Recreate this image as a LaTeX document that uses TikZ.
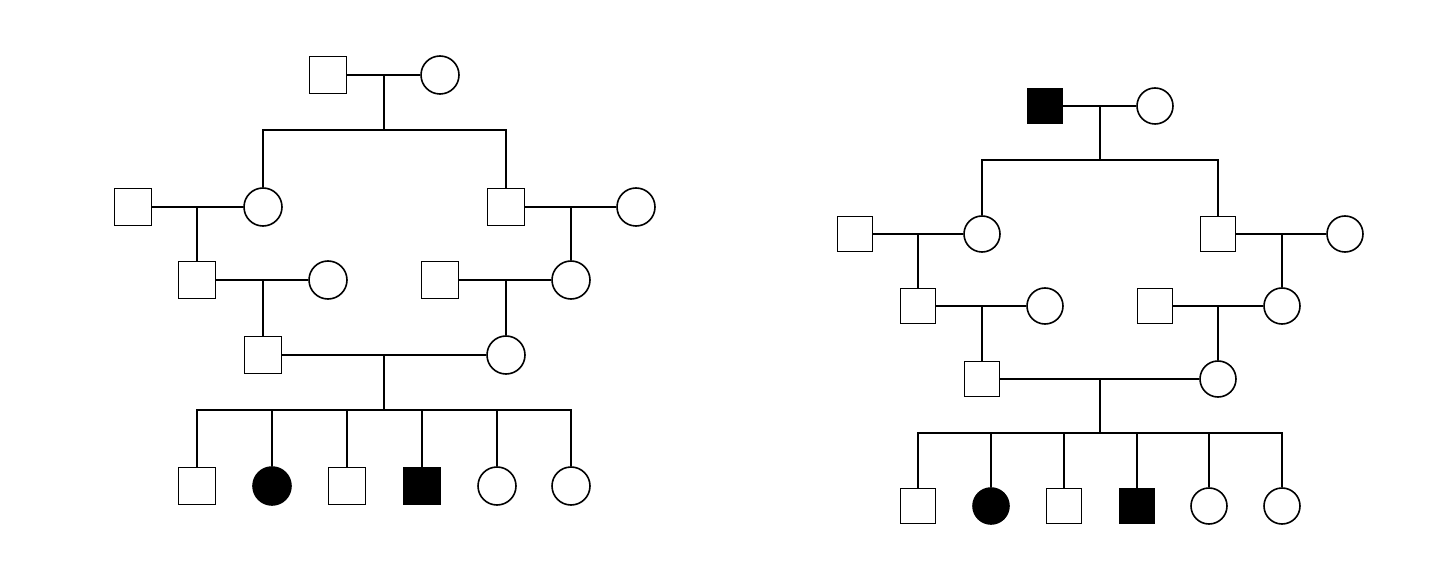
\documentclass[tikz,border=0pt]{standalone}
\begin{document}
\begin{tikzpicture}[x=1pt,y=-1pt,line width=1.6pt,
 m/.style={draw,rectangle,minimum size=37pt,inner sep=0pt,fill=white},
 f/.style={draw,circle,minimum size=38pt,inner sep=0pt,fill=white},
 af/.style={fill=black}]
\useasboundingbox (0,0) rectangle (1440,561);
% LEFT
\node[m] (a1) at (328,75) {}; \node[f] (a2) at (440,75) {};
\node[f] (b1) at (263,207) {}; \node[m] (b2) at (506,207) {};
\node[m] (b0) at (133,207) {}; \node[f] (b3) at (636,207) {};
\node[m] (c1) at (197,280) {}; \node[f] (c2) at (328,280) {};
\node[m] (c3) at (440,280) {}; \node[f] (c4) at (571,280) {};
\node[m] (d1) at (263,355) {}; \node[f] (d2) at (506,355) {};
\node[m] (e1) at (197,486) {}; \node[f,af] (e2) at (272,486) {};
\node[m] (e3) at (347,486) {}; \node[m,af] (e4) at (422,486) {};
\node[f] (e5) at (497,486) {}; \node[f] (e6) at (571,486) {};
\draw (a1) -- (a2); \draw (384,75) -- (384,130);
\draw (b1.north) |- (384,130) -| (b2.north);
\draw (b0) -- (b1); \draw (197,207) -- (c1.north);
\draw (b2) -- (b3); \draw (571,207) -- (c4.north);
\draw (c1) -- (c2); \draw (263,280) -- (d1.north);
\draw (c3) -- (c4); \draw (506,280) -- (d2.north);
\draw (d1) -- (d2); \draw (384,355) -- (384,410);
\draw (e1.north) |- (e6.north |- 0,410) -- (e6.north);
\foreach \n in {e2,e3,e4,e5} \draw (\n.north) -- (\n.north |- 0,410);
% RIGHT
\begin{scope}[m/.style={draw,rectangle,minimum size=35pt,inner sep=0pt,fill=white},
 f/.style={draw,circle,minimum size=36pt,inner sep=0pt,fill=white}]
\node[m,af] (p1) at (1045,106) {}; \node[f] (p2) at (1155,106) {};
\node[f] (q1) at (982,234) {}; \node[m] (q2) at (1218,234) {};
\node[m] (q0) at (855,234) {}; \node[f] (q3) at (1345,234) {};
\node[m] (r1) at (918,306) {}; \node[f] (r2) at (1045,306) {};
\node[m] (r3) at (1155,306) {}; \node[f] (r4) at (1282,306) {};
\node[m] (s1) at (982,379) {}; \node[f] (s2) at (1218,379) {};
\node[m] (t1) at (918,506) {}; \node[f,af] (t2) at (991,506) {};
\node[m] (t3) at (1064,506) {}; \node[m,af] (t4) at (1137,506) {};
\node[f] (t5) at (1209,506) {}; \node[f] (t6) at (1282,506) {};
\draw (p1) -- (p2); \draw (1100,106) -- (1100,160);
\draw (q1.north) |- (1100,160) -| (q2.north);
\draw (q0) -- (q1); \draw (918,234) -- (r1.north);
\draw (q2) -- (q3); \draw (1282,234) -- (r4.north);
\draw (r1) -- (r2); \draw (982,306) -- (s1.north);
\draw (r3) -- (r4); \draw (1218,306) -- (s2.north);
\draw (s1) -- (s2); \draw (1100,379) -- (1100,433);
\draw (t1.north) |- (t6.north |- 0,433) -- (t6.north);
\foreach \n in {t2,t3,t4,t5} \draw (\n.north) -- (\n.north |- 0,433);
\end{scope}
\end{tikzpicture}
\end{document}
